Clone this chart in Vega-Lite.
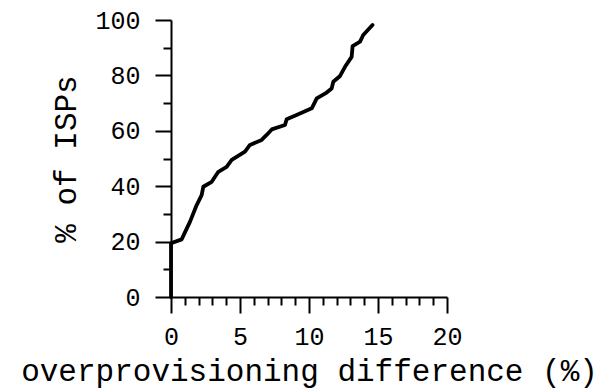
{
  "$schema": "https://vega.github.io/schema/vega-lite/v6.json",
  "autosize": "none",
  "width": 276,
  "height": 277,
  "padding": {"left": 171, "top": 20, "right": 156, "bottom": 93},
  "background": "white",
  "config": {
    "view": {"stroke": null},
    "font": "Liberation Mono",
    "axis": {
      "grid": false,
      "domainColor": "black",
      "domainWidth": 2,
      "tickColor": "black",
      "tickWidth": 2,
      "labelColor": "black",
      "labelFont": "Liberation Mono",
      "labelFontSize": 25,
      "titleColor": "black",
      "titleFont": "Liberation Mono",
      "titleFontSize": 31,
      "titleFontWeight": "normal"
    }
  },
  "data": {
    "values": [
      {"diff": 0, "pct": 0},
      {"diff": 0, "pct": 19.4},
      {"diff": 0.77, "pct": 20.8},
      {"diff": 1.38, "pct": 27.2},
      {"diff": 1.86, "pct": 33.2},
      {"diff": 2.22, "pct": 36.8},
      {"diff": 2.34, "pct": 39.8},
      {"diff": 2.95, "pct": 41.6},
      {"diff": 3.43, "pct": 45.2},
      {"diff": 4.03, "pct": 47.0},
      {"diff": 4.4, "pct": 49.5},
      {"diff": 5.36, "pct": 52.5},
      {"diff": 5.72, "pct": 54.9},
      {"diff": 6.57, "pct": 56.7},
      {"diff": 6.93, "pct": 58.5},
      {"diff": 7.3, "pct": 60.5},
      {"diff": 8.26, "pct": 62.1},
      {"diff": 8.38, "pct": 64.2},
      {"diff": 9.1, "pct": 65.7},
      {"diff": 10.2, "pct": 68.1},
      {"diff": 10.56, "pct": 71.7},
      {"diff": 11.28, "pct": 73.8},
      {"diff": 11.64, "pct": 75.3},
      {"diff": 11.76, "pct": 77.7},
      {"diff": 12.25, "pct": 79.8},
      {"diff": 12.61, "pct": 83.1},
      {"diff": 13.09, "pct": 86.7},
      {"diff": 13.16, "pct": 90.6},
      {"diff": 13.7, "pct": 92.2},
      {"diff": 13.93, "pct": 94.6},
      {"diff": 14.6, "pct": 98.2}
    ]
  },
  "mark": {"type": "line", "color": "black", "strokeWidth": 3.8, "strokeJoin": "round", "strokeCap": "round"},
  "encoding": {
    "x": {
      "field": "diff",
      "type": "quantitative",
      "scale": {"domain": [0, 20], "nice": false, "zero": true},
      "axis": {
        "title": "overprovisioning difference (%)",
        "values": [0,1,2,3,4,5,6,7,8,9,10,11,12,13,14,15,16,17,18,19,20],
        "labelExpr": "datum.value % 5 === 0 ? datum.label : ''",
        "tickSize": {"condition": {"test": "datum.value % 5 === 0", "value": 16}, "value": 8},
        "labelPadding": 11,
        "labelFlush": false,
        "labelOverlap": false,
        "titlePadding": 7
      }
    },
    "y": {
      "field": "pct",
      "type": "quantitative",
      "scale": {"domain": [0, 100], "nice": false},
      "axis": {
        "title": "% of ISPs",
        "values": [0,10,20,30,40,50,60,70,80,90,100],
        "labelExpr": "datum.value % 20 === 0 ? datum.label : ''",
        "tickSize": {"condition": {"test": "datum.value % 20 === 0", "value": 16}, "value": 8},
        "labelPadding": 15,
        "labelFlush": false,
        "labelOverlap": false,
        "titlePadding": 12
      }
    },
    "order": {"field": "pct", "type": "quantitative"}
  }
}
